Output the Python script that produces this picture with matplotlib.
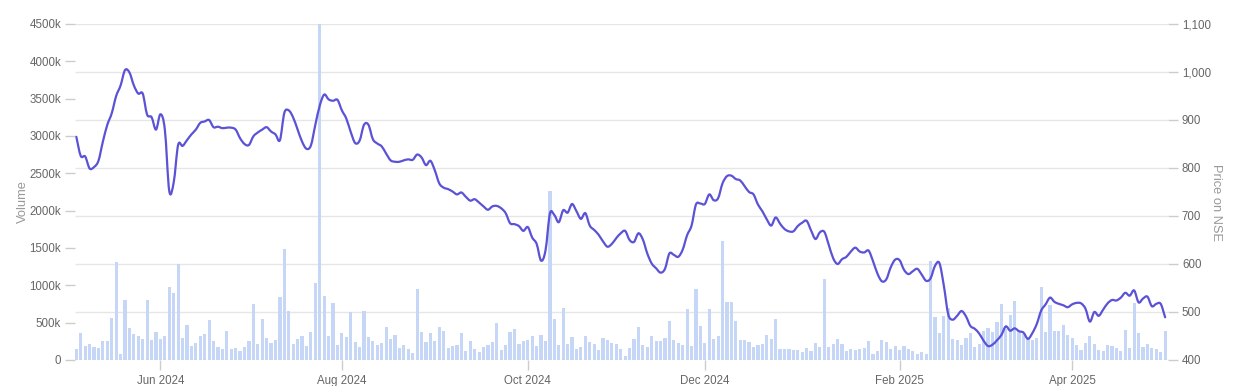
import matplotlib
matplotlib.use("Agg")
import matplotlib.pyplot as plt
import numpy as np
import pandas as pd
from matplotlib.path import Path
from matplotlib.patches import PathPatch
from matplotlib.ticker import FuncFormatter, FixedLocator

plt.rcParams["font.family"] = ["Liberation Sans", "DejaVu Sans"]

# NSE trading calendar for the window shown
START, END = "2024-05-06", "2025-05-06"
HOLIDAYS = ["2024-05-20", "2024-06-17", "2024-07-17", "2024-08-15", "2024-10-02",
            "2024-11-01", "2024-11-15", "2024-11-20", "2024-12-25", "2025-02-26",
            "2025-03-14", "2025-03-31", "2025-04-10", "2025-04-14", "2025-04-18",
            "2025-05-01"]
SPECIAL_SESSIONS = ["2025-02-01"]
TICK_MONTHS = [6, 8, 10, 12, 2, 4]

# daily volume, thousands of shares
VOLUME_K = [
    147, 357, 188, 210, 179, 156, 250, 259, 558, 1317,
    80, 804, 424, 353, 321, 277, 799, 268, 370, 277,
    326, 982, 902, 1281, 295, 473, 183, 228, 321, 344,
    536, 259, 179, 147, 388, 147, 156, 116, 179, 250,
    750, 210, 549, 299, 223, 263, 840, 1482, 661, 210,
    281, 321, 183, 375, 1031, 4500, 857, 321, 759, 198,
    368, 312, 639, 246, 179, 661, 304, 250, 201, 223,
    438, 277, 339, 165, 196, 143, 89, 946, 379, 241,
    357, 254, 446, 384, 165, 192, 196, 362, 116, 254,
    143, 112, 170, 196, 237, 491, 134, 196, 379, 420,
    210, 259, 263, 317, 183, 339, 259, 2270, 549, 201,
    701, 214, 304, 152, 170, 326, 237, 214, 138, 290,
    268, 223, 210, 143, 54, 165, 281, 438, 201, 179,
    321, 250, 250, 290, 518, 268, 223, 205, 679, 183,
    946, 455, 228, 683, 286, 321, 1600, 781, 772, 522,
    268, 263, 241, 174, 201, 219, 335, 281, 549, 143,
    143, 143, 138, 134, 112, 165, 120, 228, 170, 1080,
    179, 219, 277, 210, 125, 147, 134, 147, 156, 254,
    85, 125, 263, 237, 152, 192, 134, 192, 143, 120,
    80, 103, 85, 1330, 580, 366, 589, 692, 281, 268,
    196, 299, 357, 179, 210, 393, 429, 379, 505, 750,
    415, 607, 795, 393, 348, 281, 268, 299, 973, 371,
    737, 388, 388, 464, 335, 299, 201, 134, 232, 326,
    210, 134, 125, 205, 192, 161, 125, 402, 161, 768,
    357, 170, 210, 165, 147, 112, 384,
]

# closing price on NSE
PRICE = [
    865, 825, 824, 799, 802, 815, 855, 890, 914, 950,
    972, 1004, 999, 972, 955, 955, 911, 906, 880, 912,
    880, 752, 770, 848, 846, 858, 870, 880, 894, 897,
    900, 885, 886, 883, 884, 884, 880, 862, 850, 848,
    866, 874, 880, 885, 876, 870, 858, 915, 920, 905,
    880, 855, 840, 847, 890, 930, 953, 943, 940, 942,
    920, 903, 875, 852, 857, 890, 890, 860, 851, 845,
    830, 816, 813, 813, 816, 818, 817, 828, 822, 806,
    815, 795, 768, 759, 756, 751, 745, 749, 740, 732,
    735, 728, 720, 713, 720, 721, 716, 706, 685, 683,
    679, 669, 677, 655, 642, 607, 628, 705, 702, 687,
    712, 707, 725, 710, 694, 706, 680, 671, 661, 647,
    636, 642, 654, 664, 669, 650, 646, 664, 651, 622,
    601, 591, 582, 590, 622, 619, 615, 630, 660, 680,
    724, 726, 725, 745, 733, 737, 768, 783, 784, 777,
    774, 762, 750, 745, 724, 710, 693, 680, 697, 684,
    673, 668, 668, 679, 686, 690, 670, 652, 666, 667,
    640, 612, 600, 610, 615, 626, 634, 626, 624, 628,
    606, 580, 564, 568, 593, 609, 608, 588, 579, 585,
    590, 578, 565, 570, 596, 602, 555, 495, 484, 492,
    502, 491, 471, 465, 455, 440, 429, 432, 441, 452,
    470, 461, 466, 460, 457, 444, 456, 475, 503, 516,
    530, 521, 517, 514, 510, 516, 519, 518, 507, 480,
    500, 492, 505, 518, 525, 524, 530, 540, 534, 545,
    520, 528, 532, 512, 517, 517, 489,
]

VOL_TICKS = list(range(0, 4501, 500))
PRICE_TICKS = list(range(400, 1101, 100))


def spline_path(xs, ys):
    # Catmull-Rom curve through every point, drawn as cubic Bezier segments
    p = np.column_stack([xs, ys]).astype(float)
    ext = np.vstack([p[0], p, p[-1]])
    verts = [p[0]]
    codes = [Path.MOVETO]
    for i in range(len(p) - 1):
        p0, p1, p2, p3 = ext[i], ext[i + 1], ext[i + 2], ext[i + 3]
        verts += [p1 + (p2 - p0) / 6, p2 - (p3 - p1) / 6, p2]
        codes += [Path.CURVE4] * 3
    return Path(verts, codes)


days = pd.bdate_range(START, END)
days = days[~days.isin(pd.to_datetime(HOLIDAYS))]
days = days.union(pd.to_datetime(SPECIAL_SESSIONS))
n = min(len(days), len(PRICE), len(VOLUME_K))
days = days[:n]
x = np.arange(n)

month_key = days.year * 100 + days.month
first_pos = [i for i in range(n) if i > 0 and month_key[i] != month_key[i - 1]]
tick_pos = [i for i in first_pos if days[i].month in TICK_MONTHS]
tick_lab = [days[i].strftime("%b %Y") for i in tick_pos]

fig = plt.figure(figsize=(12.33, 3.86), dpi=100)
ax = fig.add_axes([75 / 1233, 26 / 386, 1093 / 1233, 336 / 386])
ax2 = ax.twinx()

ax.set_xlim(-0.3, 246.65)
ax.set_ylim(0, 4500)
ax2.set_ylim(400, 1100)

grid_c = "#e6e6e6"
ax.hlines(PRICE_TICKS, 0, 1, transform=ax2.get_yaxis_transform(),
          color=grid_c, linewidth=1, zorder=0)
ax.bar(x, VOLUME_K[:n], width=0.72, color="#c5d6f7", zorder=1)
ax2.add_patch(PathPatch(spline_path(x, PRICE[:n]), fill=False, edgecolor="#5b52d6",
                        linewidth=1.6, joinstyle="round", capstyle="round", zorder=3))

for a in (ax, ax2):
    for s in a.spines.values():
        s.set_visible(False)

ax.yaxis.set_major_locator(FixedLocator(VOL_TICKS))
ax.yaxis.set_major_formatter(FuncFormatter(lambda v, _: "0" if v == 0 else f"{int(v)}k"))
ax2.yaxis.set_major_locator(FixedLocator(PRICE_TICKS))
ax2.yaxis.set_major_formatter(FuncFormatter(lambda v, _: f"{v:,.0f}"))

ax.set_xticks(tick_pos)
ax.set_xticklabels(tick_lab)

ax.tick_params(axis="y", length=7, width=1, color="#cccccc", labelcolor="#666666",
               labelsize=8.3, pad=3)
ax2.tick_params(axis="y", length=7, width=1, color="#cccccc", labelcolor="#666666",
                labelsize=8.3, pad=3)
ax.tick_params(axis="x", length=7, width=1, color="#cccccc", labelcolor="#666666",
               labelsize=8.3, pad=4)

fig.text(23 / 1233, 1 - 202 / 386, "Volume", rotation=90, ha="center", va="center",
         fontsize=9.3, color="#999999")
fig.text(1216 / 1233, 1 - 202 / 386, "Price on NSE", rotation=270, ha="center",
         va="center", fontsize=9.3, color="#999999")

fig.savefig("out.png", dpi=100)
